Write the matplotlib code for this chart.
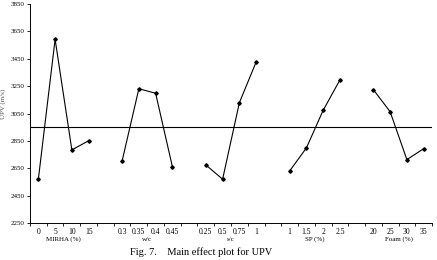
import matplotlib
matplotlib.use("Agg")
import matplotlib.pyplot as plt

plt.rcParams['font.family'] = ['Liberation Serif', 'DejaVu Serif']

# main effect means
factors = ["MIRHA (%)", "w/c", "s/c", "SP (%)", "Foam (%)"]
levels = [
    ["0", "5", "10", "15"],
    ["0.3", "0.35", "0.4", "0.45"],
    ["0.25", "0.5", "0.75", "1"],
    ["1", "1.5", "2", "2.5"],
    ["20", "25", "30", "35"],
]
upv = [
    [2570, 3592, 2784, 2851],
    [2703, 3231, 3198, 2662],
    [2674, 2570, 3129, 3426],
    [2630, 2798, 3073, 3295],
    [3224, 3063, 2713, 2793],
]
grand_mean = 2949

fig = plt.figure(figsize=(4.37, 2.60), dpi=100)
ax = fig.add_axes([0.0686, 0.1423, 0.92, 0.8423])

slot = 5  # 4 levels + 1 gap per factor
label_pos = []
label_txt = []
for i, (name, lv, vals) in enumerate(zip(factors, levels, upv)):
    xs = [i * slot + j for j in range(len(lv))]
    ax.plot(xs, vals, color="black", lw=0.8, marker="D", ms=1.8)
    label_pos += xs
    label_txt += lv
    ax.text(sum(xs) / len(xs), -0.062, name, transform=ax.get_xaxis_transform(),
            ha="center", va="top", fontsize=5)

n = len(factors) * slot - 1
ax.plot([-0.5, n - 0.5], [grand_mean, grand_mean], color="black", lw=0.8)

ax.set_xlim(-0.5, n - 0.5)
ax.set_ylim(2250, 3850)
ax.set_yticks(range(2250, 3851, 200))
ax.tick_params(axis="y", labelsize=5, length=2, width=0.6, pad=2)

# boundary ticks as major, level labels as minor
ax.set_xticks([k - 0.5 for k in range(n + 1)])
ax.set_xticklabels([])
ax.tick_params(axis="x", which="major", length=2.5, width=0.6)
ax.set_xticks(label_pos, minor=True)
ax.set_xticklabels(label_txt, minor=True)
ax.tick_params(axis="x", which="minor", length=0, labelsize=5.5, pad=3.5)

for s in ["top", "right"]:
    ax.spines[s].set_visible(False)
for s in ["left", "bottom"]:
    ax.spines[s].set_linewidth(0.7)

fig.text(0.0, 0.6, "UPV (m/s)", rotation=90, ha="left", va="center",
         fontsize=5, color="#555555")
fig.text(0.46, 0.03, "Fig. 7.    Main effect plot for UPV", ha="center",
         va="center", fontsize=7.5)

fig.savefig("out.png", dpi=100)
